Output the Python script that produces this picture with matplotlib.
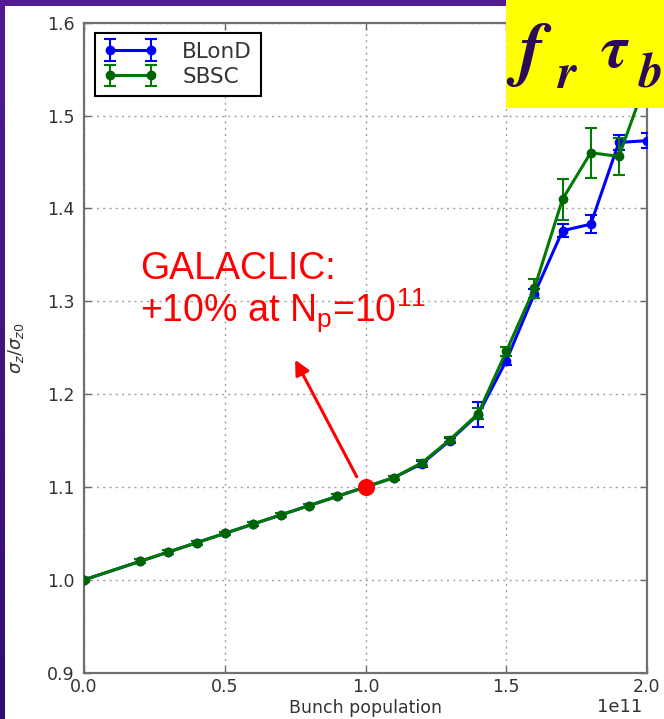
import numpy as np
import matplotlib
matplotlib.use("Agg")
import matplotlib.pyplot as plt
from matplotlib.patches import Rectangle
from matplotlib.ticker import FormatStrFormatter
from matplotlib.colors import LinearSegmentedColormap

# Bunch population (particles) and normalised bunch length
bunch_population = [0.0, 0.2e11, 0.3e11, 0.4e11, 0.5e11, 0.6e11, 0.7e11, 0.8e11, 0.9e11,
                    1.0e11, 1.1e11, 1.2e11, 1.3e11, 1.4e11, 1.5e11, 1.6e11, 1.7e11,
                    1.8e11, 1.9e11, 2.0e11]
blond_ratio = [1.000, 1.020, 1.030, 1.040, 1.050, 1.060, 1.070, 1.080, 1.090, 1.100,
               1.110, 1.125, 1.150, 1.178, 1.236, 1.308, 1.376, 1.383, 1.471, 1.473]
blond_err = [0.002, 0.002, 0.002, 0.002, 0.002, 0.002, 0.002, 0.002, 0.002, 0.002,
             0.002, 0.003, 0.003, 0.013, 0.005, 0.005, 0.007, 0.010, 0.008, 0.008]
sbsc_ratio = [1.000, 1.020, 1.030, 1.040, 1.050, 1.060, 1.070, 1.080, 1.090, 1.100,
              1.110, 1.126, 1.151, 1.179, 1.246, 1.314, 1.410, 1.460, 1.456, 1.540]
sbsc_err = [0.002, 0.002, 0.002, 0.002, 0.002, 0.002, 0.002, 0.002, 0.002, 0.002,
            0.002, 0.003, 0.003, 0.006, 0.005, 0.010, 0.022, 0.027, 0.020, 0.020]

series_labels = ["BLonD", "SBSC"]
galaclic_point = (1.0e11, 1.10)
y_ticks = [0.9, 1.0, 1.1, 1.2, 1.3, 1.4, 1.5, 1.6]
x_ticks = [0.0, 0.5e11, 1.0e11, 1.5e11, 2.0e11]

W, H = 664, 719
fig = plt.figure(figsize=(W / 100, H / 100), dpi=100)
fig.patch.set_facecolor("white")

# purple slide frame: gradient strip on the left, band along the top
grad_ax = fig.add_axes([0, 0, 5 / W, 1])
grad = np.linspace(0, 1, 256).reshape(-1, 1)
frame_cmap = LinearSegmentedColormap.from_list("frame", ["#521b92", "#2f0f6e"])
grad_ax.imshow(grad, aspect="auto", cmap=frame_cmap, extent=[0, 1, 0, 1], origin="upper")
grad_ax.set_axis_off()
fig.add_artist(Rectangle((0, 1 - 6 / H), 506 / W, 6 / H, transform=fig.transFigure,
                         facecolor="#521b92", edgecolor="none", zorder=1))

ax = fig.add_axes([84 / W, 1 - 672.7 / H, (647 - 84) / W, 650 / H])

ax.errorbar(bunch_population, blond_ratio, yerr=blond_err, color="blue", lw=2.2,
            marker="o", ms=6, capsize=4, capthick=1.5, elinewidth=1.5,
            label=series_labels[0], zorder=3)
ax.errorbar(bunch_population, sbsc_ratio, yerr=sbsc_err, color="#007a00", lw=2.2,
            marker="o", ms=6, mfc="#006400", mec="#006400", capsize=4, capthick=1.5,
            elinewidth=1.5, label=series_labels[1], zorder=4)

ax.plot([galaclic_point[0]], [galaclic_point[1]], "o", color="red", ms=11.3,
        mec="red", zorder=6)

ax.set_xlim(0, 2.0e11)
ax.set_ylim(0.9, 1.6)
ax.set_xticks(x_ticks)
ax.set_yticks(y_ticks)
ax.yaxis.set_major_formatter(FormatStrFormatter("%.1f"))
ax.grid(True, color="#a0a0a0", linestyle=(0, (1.5, 3)), linewidth=1.0)
ax.set_axisbelow(True)

ax.tick_params(direction="in", top=True, right=True, length=5, width=1,
               color="#666666", labelsize=12.5, labelcolor="#333333")
ax.tick_params(axis="x", pad=4)
ax.tick_params(axis="y", pad=7)
for sp in ax.spines.values():
    sp.set_color("#707070")
    sp.set_linewidth(1.6)

# scale factor of the x axis written under the right end
ax.xaxis.get_offset_text().set_visible(False)
fig.text(620 / W, 1 - 707 / H, "1e11", fontsize=13, color="#333333",
         ha="center", va="center")

ax.set_xlabel("Bunch population", fontsize=12.5, color="#333333")
ax.xaxis.set_label_coords(0.5, -(708 - 672.7) / 650)
ax.xaxis.label.set_va("center")
ax.set_ylabel(r"$\sigma_z/\sigma_{z0}$", fontsize=13, color="#333333")
ax.yaxis.set_label_coords(-(84 - 26) / 563, 0.5)

leg = ax.legend(loc="upper left", numpoints=2, fontsize=15.5, fancybox=False,
                framealpha=1, edgecolor="black", borderpad=0.4, handlelength=2.5,
                handletextpad=1.15, labelspacing=0.25, borderaxespad=0,
                bbox_to_anchor=((95 - 84) / 563, 1 - (33 - 22.7) / 650))
leg.get_frame().set_linewidth(1.5)
for t in leg.get_texts():
    t.set_color("#333333")

# annotation: two-line note pointing at the GALACLIC value
note = "GALACLIC:\n" + r"+10% at N$_\mathregular{p}$=10$^\mathregular{11}$"
ax.text(140 / W, 1 - 251 / H, note, transform=fig.transFigure, color="red",
        fontsize=27, family="Liberation Sans", va="top", ha="left",
        linespacing=1.0, zorder=7)
ax.annotate("", xy=(0.75e11, 1.237), xytext=(0.969e11, 1.111),
            arrowprops=dict(arrowstyle="-|>", color="red", lw=2.2,
                            mutation_scale=22, shrinkA=0, shrinkB=0), zorder=7)

# yellow label box with the parameter symbols
fig.add_artist(Rectangle((506 / W, 1 - 107.7 / H), (W - 506) / W, 107.7 / H,
                         transform=fig.transFigure, facecolor="#ffff00",
                         edgecolor="none", zorder=10))
sym_color = "#2b0a57"
sym_kw = dict(family="STIXGeneral", weight="bold", style="italic", color=sym_color,
              transform=fig.transFigure, va="baseline", ha="left", zorder=11)
fig.text(518 / W, 1 - 72 / H, "f", fontsize=52, **sym_kw)
fig.text(557 / W, 1 - 88 / H, "r", fontsize=35, **sym_kw)
fig.text(601 / W, 1 - 67 / H, "\u03c4", fontsize=44, **sym_kw)
fig.text(639 / W, 1 - 88 / H, "b", fontsize=35, **sym_kw)

fig.savefig("out.png", dpi=100, facecolor=fig.get_facecolor())
